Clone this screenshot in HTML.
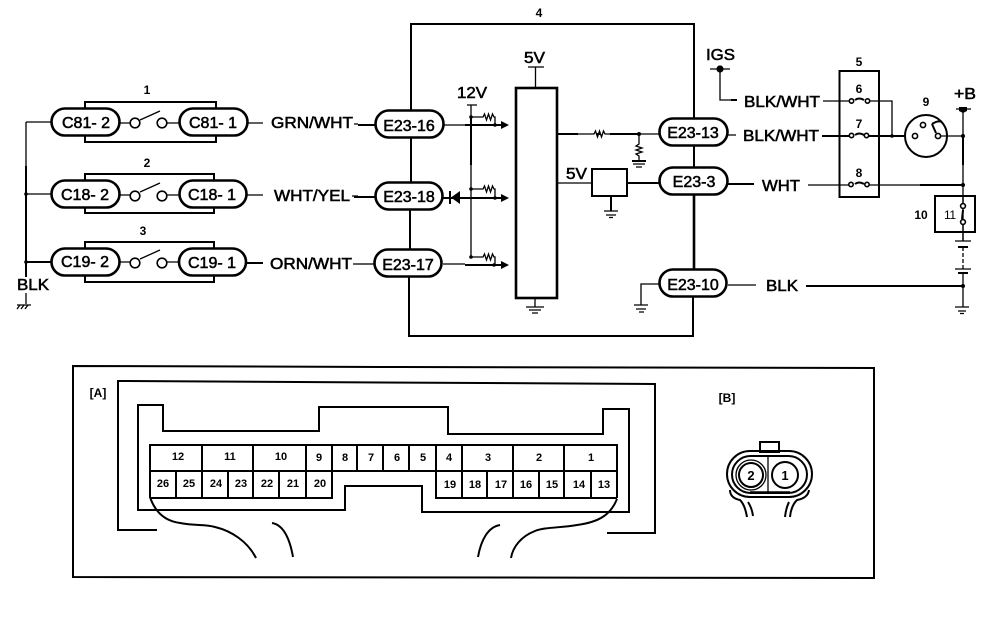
<!DOCTYPE html>
<html>
<head>
<meta charset="utf-8">
<style>
html,body{margin:0;padding:0;background:#fff;width:1008px;height:620px;overflow:hidden}
svg{display:block}
text{font-family:"Liberation Sans",sans-serif;fill:#000}
.l{font-size:16px;stroke:#000;stroke-width:.55}
.p{font-size:16px;stroke:#000;stroke-width:.55;text-anchor:middle}
.s{font-size:11px;font-weight:bold;text-anchor:middle}
.n{font-size:12px;font-weight:bold;text-anchor:middle}
.w{fill:none;stroke:#000;stroke-width:1.3}
.t{fill:none;stroke:#000;stroke-width:2}
.b{fill:none;stroke:#000;stroke-width:2.6}
.c{fill:#fff;stroke:#000;stroke-width:1.6}
.d{fill:#000;stroke:none}
</style>
</head>
<body>
<svg width="1008" height="620" viewBox="0 0 1008 620" xmlns="http://www.w3.org/2000/svg">
<rect width="1008" height="620" fill="#fff"/>

<!-- Left switches -->
<path class="t" d="M85 109V102H216V109M85 136V142H216V136"/>
<path class="t" d="M85 181V174H214V181M85 207V213H214V207"/>
<path class="t" d="M85 249V242H214V249M85 275V282H214V275"/>
<path class="w" d="M26 122H51"/>
<path class="t" d="M26 166V277"/>
<path class="w" d="M26 122V166M26 194H51"/>
<path class="t" d="M26 262H51"/>
<path class="w" d="M26 293V304M17 305H31M20 305l-3 4M24 305l-3 4M28 305l-3 4"/>
<circle class="d" cx="26" cy="194" r="1.8"/><circle class="d" cx="26" cy="262" r="1.8"/>
<text class="l" x="17" y="290" textLength="32" lengthAdjust="spacingAndGlyphs">BLK</text>
<rect class="b" x="51.500" y="108.500" width="68" height="27" rx="13.500" fill="#fff"/>
<rect class="b" x="179.500" y="108.500" width="68" height="27" rx="13.500" fill="#fff"/>
<rect class="b" x="51.500" y="180.500" width="68" height="27" rx="13.500"/>
<rect class="b" x="179.500" y="180.500" width="67" height="27" rx="13.500"/>
<rect class="b" x="51.500" y="248.500" width="68" height="27" rx="13.500"/>
<rect class="b" x="179" y="248.500" width="67" height="27" rx="13.500"/>
<text class="p" x="86" y="128">C81- 2</text><text class="p" x="213" y="128">C81- 1</text>
<text class="p" x="85" y="200">C18- 2</text><text class="p" x="212" y="200">C18- 1</text>
<text class="p" x="85" y="267">C19- 2</text><text class="p" x="212" y="268">C19- 1</text>
<text class="n" x="147" y="94">1</text><text class="n" x="147" y="167">2</text><text class="n" x="143" y="235">3</text>
<g id="sw">
<path class="w" d="M120 123H130M167 123H179M140 120L160 111"/>
<path class="w" d="M120 195H130M167 195H179M140 192L160 183"/>
<path class="w" d="M120 262H130M167 262H179M140 259L160 250"/>
<circle class="c" cx="135" cy="123" r="4.800"/><circle class="c" cx="162" cy="123" r="4.800"/>
<circle class="c" cx="135" cy="196" r="4.800"/><circle class="c" cx="162" cy="196" r="4.800"/>
<circle class="c" cx="135" cy="263" r="4.800"/><circle class="c" cx="162" cy="263" r="4.800"/>
</g>
<path class="w" d="M248 123H263M247 195H263"/>
<path class="t" d="M246 263H263"/>
<text class="l" x="271" y="128" textLength="82" lengthAdjust="spacingAndGlyphs">GRN/WHT</text>
<text class="l" x="274" y="201" textLength="76" lengthAdjust="spacingAndGlyphs">WHT/YEL</text>
<text class="l" x="270" y="269" textLength="82" lengthAdjust="spacingAndGlyphs">ORN/WHT</text>
<path class="w" d="M354 124H358M352 196H358M353 264H358"/>
<path class="t" d="M358 125H375M354 197H375"/>
<path class="w" d="M358 264H374"/>

<!-- Module 4 -->
<text class="n" x="539" y="17">4</text>
<path class="t" d="M411 110V24H694V118M411 138V182M410 210V249M409 277V336H693V297M694 146V167"/>
<path class="b" d="M694 195V269"/>
<rect class="b" x="375.500" y="110.500" width="68" height="27" rx="13.500" fill="#fff"/>
<rect class="b" x="375.500" y="182.500" width="67" height="27" rx="13.500" fill="#fff"/>
<rect class="b" x="374.500" y="249.500" width="67" height="27" rx="13.500" fill="#fff"/>
<text class="p" x="409" y="131">E23-16</text>
<text class="p" x="409" y="202">E23-18</text>
<text class="p" x="408" y="270">E23-17</text>
<rect class="b" x="659.500" y="118.500" width="68" height="27" rx="13.500" fill="#fff"/>
<rect class="b" x="659.500" y="167.500" width="68" height="27" rx="13.500" fill="#fff"/>
<rect class="b" x="659.500" y="269.500" width="67" height="27" rx="13.500" fill="#fff"/>
<text class="p" x="693" y="138">E23-13</text>
<text class="p" x="694" y="187">E23-3</text>
<text class="p" x="693" y="290">E23-10</text>

<!-- 12V pull-ups -->
<text class="l" x="457" y="98" textLength="30" lengthAdjust="spacingAndGlyphs">12V</text>
<path class="w" d="M467 105H477M471 105V257"/>
<path class="t" d="M471 116V165"/>
<path class="w" d="M444 125H465"/>
<path class="t" d="M465 125H503M443 198H503"/>
<path class="t" d="M465 265H503"/>
<path class="w" d="M443 264H465"/>
<path class="d" d="M501 121L509 125L501 129ZM501 194L509 198L501 202ZM501 261L509 265L501 269Z"/>
<path class="d" d="M460 191V204L451 197.500Z"/>
<path class="t" d="M450 191V204"/>
<path class="w" d="M471 117H483l1.500-3 2 6 2-6 2 6 2-6 1.500 3H495V125"/>
<path class="w" d="M471 189H483l1.500-3 2 6 2-6 2 6 2-6 1.500 3H495V198"/>
<path class="w" d="M471 257H483l1.500-3 2 6 2-6 2 6 2-6 1.500 3H495V265"/>
<circle class="d" cx="471" cy="117" r="1.800"/><circle class="d" cx="471" cy="189" r="1.800"/><circle class="d" cx="471" cy="257" r="1.800"/>
<circle class="d" cx="495" cy="125" r="1.800"/><circle class="d" cx="495" cy="198" r="1.800"/><circle class="d" cx="494" cy="265" r="1.800"/>

<!-- Central IC -->
<rect class="b" x="516" y="88" width="41" height="210"/>
<text class="l" x="524" y="63" textLength="21" lengthAdjust="spacingAndGlyphs">5V</text>
<path class="w" d="M528 67H544M535.500 67V88"/>
<path class="w" d="M535 298V307M526 307H544M529 310H541M532 313H538"/>
<path class="t" d="M557 134H578M596 134H600"/>
<path class="w" d="M578 134H594l1.500-3 2 6 2-6 2 6 2-6 1.500 3H610"/>
<path class="t" d="M610 134H639"/>
<path class="w" d="M639 134H659M639 134V144l-3 2 6 2-6 2 6 2-6 2 3 2V161"/>
<circle class="d" cx="639" cy="134" r="2"/>
<path class="t" d="M632 161H646"/>
<path class="w" d="M633 164H645M636 167H642"/>
<text class="l" x="566" y="179" textLength="21" lengthAdjust="spacingAndGlyphs">5V</text>
<path class="w" d="M557 183H592"/>
<rect class="t" x="592" y="169" width="35" height="27"/>
<path class="t" d="M627 183H659"/>
<path class="t" d="M611 196V211"/>
<path class="w" d="M604 211H618M606 215H616M609 217.500H613"/>
<path class="w" d="M659 284H641V305M634 305H648M636 309H646M639 312H644"/>

<!-- Right side -->
<text class="l" x="706" y="60" textLength="29" lengthAdjust="spacingAndGlyphs">IGS</text>
<circle class="d" cx="720" cy="69" r="3.600"/>
<path class="w" d="M710 69H730M720 69V100H731"/>
<path class="t" d="M731 100H737"/>
<text class="l" x="744" y="107" textLength="76" lengthAdjust="spacingAndGlyphs">BLK/WHT</text>
<text class="l" x="743" y="141" textLength="76" lengthAdjust="spacingAndGlyphs">BLK/WHT</text>
<text class="l" x="762" y="191" textLength="38" lengthAdjust="spacingAndGlyphs">WHT</text>
<text class="l" x="766" y="291" textLength="32" lengthAdjust="spacingAndGlyphs">BLK</text>
<path class="w" d="M728 135H736M728 285H756M808 185H838"/>
<path class="t" d="M728 184H754M806 286H963"/>
<path class="w" d="M823 101H850M868 101H892V136"/>
<path class="t" d="M822 136H850M867 136H905"/>
<path class="w" d="M838 185H850M868 185H920"/>
<path class="t" d="M920 185H963"/>
<rect class="t" x="839.500" y="71" width="39.500" height="126"/>
<text class="n" x="859" y="66">5</text>
<text class="n" x="859" y="93">6</text>
<text class="n" x="859" y="128">7</text>
<text class="n" x="859" y="177">8</text>
<text class="n" x="926" y="106">9</text>
<path class="t" d="M855 100q4-3 9 0M855 135q4-3 9 0M855 184q4-3 9 0"/>
<circle class="c" cx="851.500" cy="101" r="2.200"/><circle class="c" cx="867.500" cy="101" r="2.200"/>
<circle class="c" cx="851.500" cy="135.500" r="2.200"/><circle class="c" cx="866.500" cy="135.500" r="2.200"/>
<circle class="c" cx="851" cy="184.500" r="2.200"/><circle class="c" cx="867" cy="184.500" r="2.200"/>
<circle class="d" cx="892" cy="136" r="1.800"/>
<circle class="t" cx="926" cy="136" r="21" fill="none"/>
<path class="w" d="M937 136H963"/>
<path class="t" d="M932 124L936 133M932 124Q938 120 942 122"/>
<circle class="c" cx="915" cy="136" r="2.600"/><circle class="c" cx="923" cy="125" r="2.600"/><circle class="c" cx="938" cy="136" r="2.600"/>
<text class="l" x="954" y="99" textLength="22" lengthAdjust="spacingAndGlyphs">+B</text>
<path class="w" d="M956 109H971M963 110V241"/>
<path class="t" d="M963 136V165"/>
<path class="d" d="M959 107H967V111L963 113L959 111Z"/>
<circle class="d" cx="963" cy="136" r="2"/><circle class="d" cx="963" cy="185" r="2"/><circle class="d" cx="963" cy="286" r="2"/>
<rect class="t" x="935" y="196" width="40" height="36" fill="#fff"/>
<text class="s" x="921" y="219" style="font-size:12px">10</text>
<text x="944" y="219" font-size="12" textLength="12">11</text>
<path class="t" d="M963 210L962 219"/>
<path class="w" d="M963 196V203M963 225V232"/>
<circle class="c" cx="963" cy="206" r="2.400"/><circle class="c" cx="963" cy="222" r="2.400"/>
<path class="w" d="M963 232V241M955 241H971"/>
<path class="t" d="M958 247H968M958 273H968"/>
<path class="w" d="M963 247V269" stroke-dasharray="4 2"/>
<path class="w" d="M955 269H971M963 273V307M955 307H969M958 311H966M960 313.500H964"/>

<!-- Lower panel -->
<path class="t" d="M73 366L400 367L874 368V578L73 577Z"/>
<path class="t" d="M157 530H118V381L655 384V533H607"/>
<text class="s" x="98" y="397" style="font-size:12px">[A]</text>
<path class="t" d="M138 405H163V431H319V407H448V434H603V409H629V512H422V486H345V510H138Z"/>
<path class="t" d="M150 498V445H617V498M150 471H617M150 498H332V471M436 471V498H617"/>
<path class="t" d="M202 445V498M253 445V498M306 445V498M332 445V471M357 445V471M383 445V471M409 445V471M436 445V471M462 445V498M513 445V498M564 445V498M176 471V498M228 471V498M279 471V498M487 471V498M539 471V498M591 471V498"/>
<g class="s">
<text class="s" x="178" y="460">12</text><text class="s" x="230" y="460">11</text><text class="s" x="281" y="460">10</text>
<text class="s" x="319" y="461">9</text><text class="s" x="345" y="461">8</text><text class="s" x="371" y="461">7</text><text class="s" x="397" y="461">6</text><text class="s" x="423" y="461">5</text><text class="s" x="449" y="461">4</text>
<text class="s" x="488" y="461">3</text><text class="s" x="539" y="461">2</text><text class="s" x="591" y="461">1</text>
<text class="s" x="163" y="487">26</text><text class="s" x="189" y="487">25</text><text class="s" x="216" y="487">24</text><text class="s" x="241" y="487">23</text><text class="s" x="267" y="487">22</text><text class="s" x="293" y="487">21</text><text class="s" x="320" y="487">20</text>
<text class="s" x="450" y="488">19</text><text class="s" x="475" y="488">18</text><text class="s" x="501" y="488">17</text><text class="s" x="526" y="488">16</text><text class="s" x="552" y="488">15</text><text class="s" x="579" y="488">14</text><text class="s" x="604" y="488">13</text>
</g>
<path class="t" d="M150 497C155 512 165 521 180 523C195 526 205 524 215 527C232 531 248 542 256 558"/>
<path class="t" d="M272 523C284 525 290 540 293 557"/>
<path class="t" d="M617 499C611 514 600 522 577 525C560 528 545 527 535 531C522 536 513 546 511 558"/>
<path class="t" d="M500 525C488 527 481 540 478 557"/>

<!-- Connector B -->
<text class="s" x="727" y="402" style="font-size:12px">[B]</text>
<rect class="t" x="760" y="442" width="19" height="10" fill="#fff"/>
<rect class="t" x="727" y="451" width="85" height="46" rx="23" fill="#fff"/>
<rect class="t" x="732" y="456" width="75" height="37" rx="18.500"/>
<path class="w" d="M768 457V492"/>
<path class="b" d="M750 492.500H790"/>
<circle class="w" cx="751" cy="475" r="15"/>
<circle class="t" cx="751" cy="475" r="12"/>
<circle class="t" cx="785" cy="475" r="13"/>
<text class="n" x="751" y="480" style="font-size:13px">2</text>
<text class="n" x="785" y="480" style="font-size:13px">1</text>
<path class="t" d="M730 490Q730 498 740 500Q745 505 747 517M748 502Q752 508 753 516"/>
<path class="t" d="M809 490Q808 498 797 500Q791 506 790 517M789 502Q786 508 785 517"/>
</svg>
</body>
</html>
